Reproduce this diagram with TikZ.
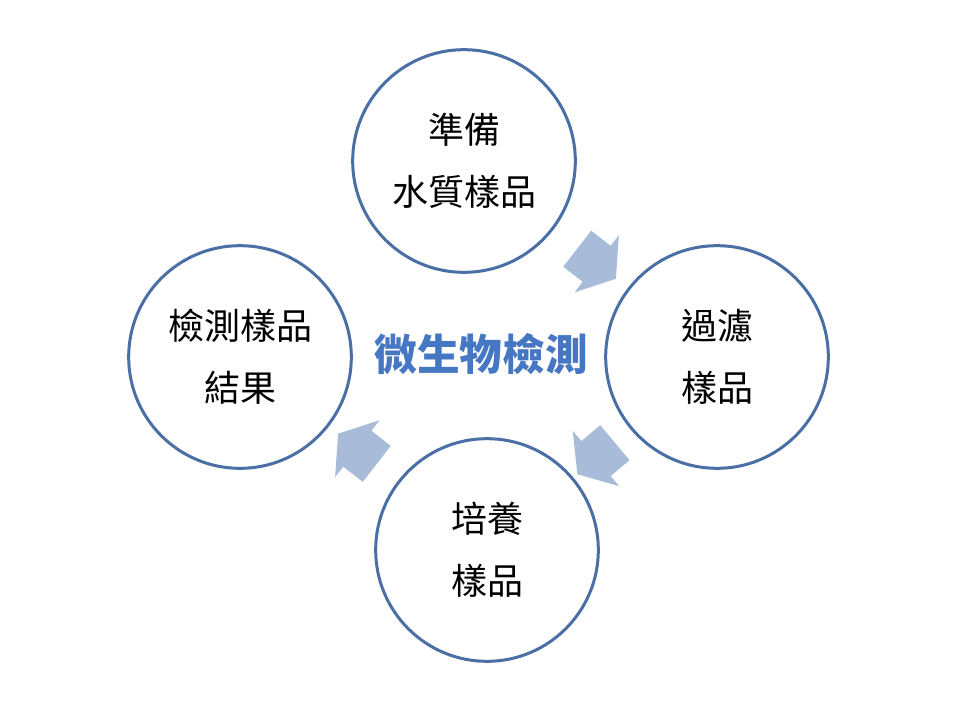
\documentclass[tikz,border=0pt]{standalone}
\usepackage{fontspec}
\newfontfamily\cjk{Noto Sans CJK TC}
\usetikzlibrary{shapes.arrows}
\definecolor{ringblue}{HTML}{4A6FA5}
\definecolor{arrowblue}{HTML}{A8BBD9}
\definecolor{titleblue}{HTML}{4677C2}
\tikzset{
  stage/.style={circle, draw=ringblue, line width=2.25pt, fill=white, minimum size=167pt, inner sep=0pt, align=center, font=\cjk\fontsize{27}{46.5}\selectfont},
  flowarrow/.style={single arrow, fill=arrowblue, draw=none, inner xsep=0pt, inner ysep=16.9pt, minimum height=36.75pt, single arrow head extend=10pt, single arrow tip angle=112, sloped, allow upside down}
}
\begin{document}
\begin{tikzpicture}[x=0.75pt,y=-0.75pt]
	\useasboundingbox (0,0) rectangle (960,720);
	% four stages of the cycle
	\node[stage] (prep) at (464,161) {準備\\水質樣品};
	\node[stage] (filter) at (717,357) {過濾\\樣品};
	\node[stage] (culture) at (487,550) {培養\\樣品};
	\node[stage] (result) at (240,357) {檢測樣品\\結果};
	% title in the middle
	\node[font=\cjk\bfseries\fontsize{32}{38}\selectfont, text=titleblue] (title) at (481,354) {微生物檢測};
	% arrows between stages
	\path (prep) -- node[flowarrow] {} (filter);
	\path (filter) -- node[flowarrow] {} (culture);
	\path (culture) -- node[flowarrow] {} (result);
\end{tikzpicture}
\end{document}
